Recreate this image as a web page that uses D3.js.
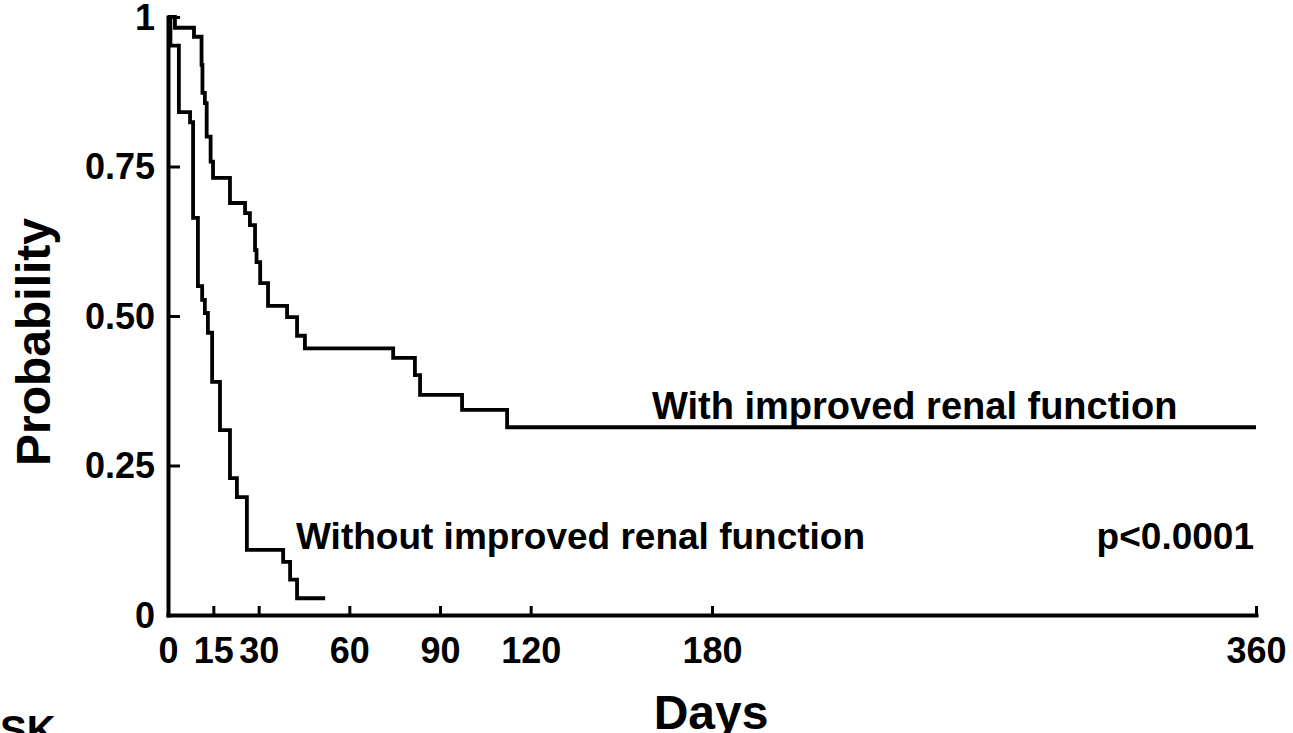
<!DOCTYPE html>
<html>
<head>
<meta charset="utf-8">
<script src="https://cdn.jsdelivr.net/npm/d3@7"></script>
<style>
  html, body { margin: 0; padding: 0; background: #fff; overflow: hidden; }
  svg { display: block; }
  text { font-family: "Liberation Sans", Arial, Helvetica, sans-serif; font-weight: bold; fill: #000; }
</style>
</head>
<body>
<svg id="chart" width="1293" height="733"></svg>
<script>
// ---- data (days, survival probability) ----
const xTickValues = [0, 15, 30, 60, 90, 120, 180, 360];
const yTickValues = [0, 0.25, 0.5, 0.75, 1];
const yTickLabels = ["0", "0.25", "0.50", "0.75", "1"];

const withDays  = [0, 2.3, 8.6, 11.1, 11.4, 12.2, 12.8, 14.1, 14.9, 20.5, 25.5, 27.1, 28.8, 29.3, 30.5, 33.1, 39.4, 42.7, 45.3, 74.5, 81.7, 83.4, 97.3, 112.2, 360];
const withProb  = [1, 0.982, 0.967, 0.92, 0.873, 0.856, 0.80, 0.758, 0.731, 0.689, 0.672, 0.652, 0.61, 0.59, 0.555, 0.517, 0.498, 0.467, 0.446, 0.43, 0.401, 0.368, 0.343, 0.314, 0.314];

const withoutDays = [0, 0.8, 3.6, 7.3, 8.3, 9.9, 11.3, 12.2, 13.2, 14.6, 17.2, 20.5, 22.8, 26.1, 38.1, 40.4, 42.7, 52];
const withoutProb = [1, 0.952, 0.841, 0.824, 0.664, 0.55, 0.527, 0.505, 0.472, 0.39, 0.309, 0.229, 0.197, 0.109, 0.089, 0.059, 0.028, 0.028];

const labelWith = "With improved renal function";
const labelWithout = "Without improved renal function";
const pLabel = "p<0.0001";
const xTitle = "Days";
const yTitle = "Probability";

// ---- chart ----
const svg = d3.select("#chart");
const x = d3.scaleLinear().domain([0, 360]).range([168, 1256]);
const y = d3.scaleLinear().domain([0, 1]).range([615, 17]);

const xAxis = d3.axisBottom(x).tickValues(xTickValues).tickFormat(d3.format("d"))
  .tickSize(-9).tickSizeOuter(0).tickPadding(22);
const yAxis = d3.axisLeft(y).tickValues(yTickValues).tickFormat((d, i) => yTickLabels[i])
  .tickSize(-12).tickSizeOuter(0).tickPadding(13);

const gx = svg.append("g").attr("transform", `translate(0,${y(0)})`).call(xAxis);
const gy = svg.append("g").attr("transform", `translate(${x(0)},0)`).call(yAxis);

[gx, gy].forEach(g => {
  g.selectAll("path.domain").attr("stroke", "#000").attr("stroke-width", 4).attr("stroke-linecap", "square");
  g.selectAll(".tick line").attr("stroke", "#000").attr("stroke-width", 3);
  g.selectAll(".tick text").attr("font-size", 36).attr("font-weight", "bold")
    .attr("font-family", '"Liberation Sans", Arial, Helvetica, sans-serif').attr("fill", "#000");
});
gy.selectAll(".tick text").attr("dy", "0.34em");

const line = d3.line().x(d => x(d[0])).y(d => y(d[1])).curve(d3.curveStepAfter);
const withData = withDays.map((d, i) => [d, withProb[i]]);
const withoutData = withoutDays.map((d, i) => [d, withoutProb[i]]);

svg.append("path").datum(withData).attr("d", line)
  .attr("fill", "none").attr("stroke", "#000").attr("stroke-width", 3.8);
svg.append("path").datum(withoutData).attr("d", line)
  .attr("fill", "none").attr("stroke", "#000").attr("stroke-width", 3.8);

// annotations
svg.append("text").attr("x", 652).attr("y", 419).attr("font-size", 38).text(labelWith);
svg.append("text").attr("x", 296).attr("y", 549).attr("font-size", 37).text(labelWithout);
svg.append("text").attr("x", 1254).attr("y", 549).attr("font-size", 37).attr("text-anchor", "end").text(pLabel);

// axis titles
svg.append("text").attr("x", 711).attr("y", 729).attr("font-size", 48).attr("text-anchor", "middle").text(xTitle);
svg.append("text").attr("transform", "translate(50,342) rotate(-90)").attr("font-size", 48)
  .attr("text-anchor", "middle").text(yTitle);

// cropped text at bottom-left edge
svg.append("text").attr("x", 0).attr("y", 744).attr("font-size", 40).text("SK");
</script>
</body>
</html>
